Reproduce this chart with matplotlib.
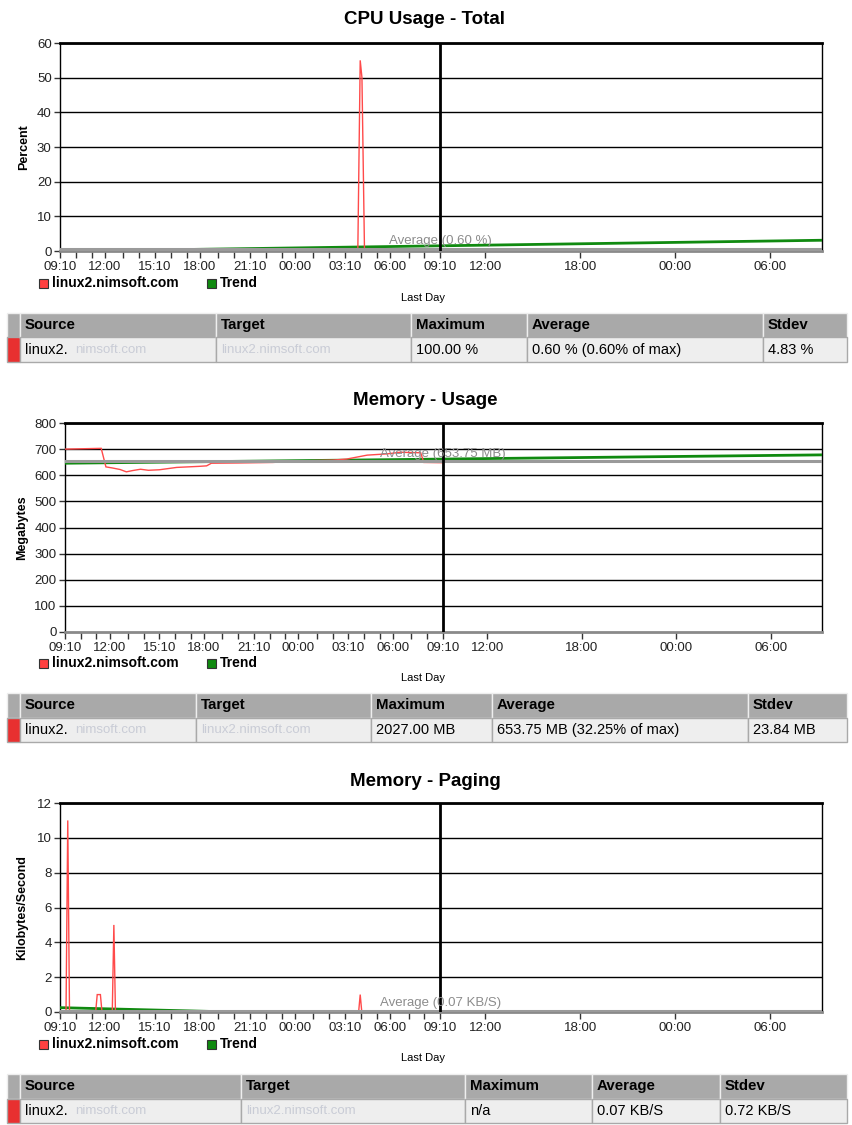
import matplotlib
matplotlib.use("Agg")
import matplotlib.pyplot as plt
from matplotlib.patches import Rectangle

plt.rcParams['font.family'] = ['Liberation Sans', 'DejaVu Sans']

W, H = 852, 1125

# ---------------- data (hours since 09:10 of day 1) ----------------
tick_pos = [0, 2.833, 6, 8.833, 12, 14.833, 18, 20.833, 24, 26.833, 32.833, 38.833, 44.833]
tick_lbl = ["09:10", "12:00", "15:10", "18:00", "21:10", "00:00", "03:10", "06:00",
            "09:10", "12:00", "18:00", "00:00", "06:00"]
minor_pos = [1, 2, 4, 5, 7, 8, 10, 11, 13, 14, 16, 17, 19, 20, 22, 23]
x_max = 48.1
now_h = 24

cpu_t = [0, 2, 4, 6, 8, 10, 12, 14, 16, 18, 18.8, 18.95, 19.06, 19.22, 20, 22, 24]
cpu_v = [0.4, 0.3, 0.4, 0.3, 0.4, 0.3, 0.4, 0.3, 0.4, 0.3, 0.3, 55, 50, 0.3, 0.4, 0.3, 0.4]
cpu_avg = 0.60
cpu_trend_t = [0, 48.1]
cpu_trend_v = [-0.1, 3.1]

mem_t = [0, 2.3, 2.6, 3.0, 3.5, 3.9, 4.3, 4.8, 5.3, 6.0, 7.1, 8.5, 9.0, 9.3, 11.0, 13.2,
         15.0, 17.0, 17.9, 19.2, 20.5, 21.3, 22.6, 22.8, 24]
mem_v = [700, 703, 632, 628, 622, 613, 618, 623, 619, 621, 630, 634, 636, 646, 647, 649,
         655, 658, 662, 677, 682, 688, 686, 649, 648]
mem_avg = 653.75
mem_trend_t = [0, 48.1]
mem_trend_v = [646, 678]

pag_t = [0, 0.38, 0.49, 0.6, 2.25, 2.35, 2.55, 2.65, 3.3, 3.4, 3.5, 18.85, 18.95, 19.05, 24]
pag_v = [0, 0, 11, 0, 0, 1, 1, 0, 0, 5, 0, 0, 1, 0, 0]
pag_avg = 0.07
pag_trend_t = [0, 48.1]
pag_trend_v = [0.25, -0.85]

charts = [
    dict(title="CPU Usage - Total", ylabel="Percent", ymax=60, ystep=10,
         t=cpu_t, v=cpu_v, avg=cpu_avg, avg_lbl="Average (0.60 %)",
         tt=cpu_trend_t, tv=cpu_trend_v,
         box=(60, 43, 822, 251), title_y=18, leg_y=283, last_y=298, ylab_x=24,
         table_y=313, cols=[7, 20, 216, 411, 527, 763, 847],
         row=["linux2.", "", "100.00 %", "0.60 % (0.60% of max)", "4.83 %"]),
    dict(title="Memory - Usage", ylabel="Megabytes", ymax=800, ystep=100,
         t=mem_t, v=mem_v, avg=mem_avg, avg_lbl="Average (653.75 MB)",
         tt=mem_trend_t, tv=mem_trend_v,
         box=(65, 423, 822, 632), title_y=399, leg_y=663, last_y=678, ylab_x=22,
         table_y=693, cols=[7, 20, 196, 371, 492, 748, 847],
         row=["linux2.", "", "2027.00 MB", "653.75 MB (32.25% of max)", "23.84 MB"]),
    dict(title="Memory - Paging", ylabel="Kilobytes/Second", ymax=12, ystep=2,
         t=pag_t, v=pag_v, avg=pag_avg, avg_lbl="Average (0.07 KB/S)",
         tt=pag_trend_t, tv=pag_trend_v,
         box=(60, 803, 822, 1012), title_y=780, leg_y=1044, last_y=1058, ylab_x=22,
         table_y=1074, cols=[7, 20, 241, 465, 592, 720, 847],
         row=["linux2.", "", "n/a", "0.07 KB/S", "0.72 KB/S"]),
]
headers = ["Source", "Target", "Maximum", "Average", "Stdev"]

fig = plt.figure(figsize=(W / 100, H / 100), dpi=100)
fig.patch.set_facecolor("white")


def fx(x):
    return x / W


def fy(y):
    return 1 - y / H


for c in charts:
    l, t, r, b = c["box"]
    ax = fig.add_axes([fx(l), fy(b), (r - l) / W, (b - t) / H])
    ax.set_xlim(0, x_max)
    ax.set_ylim(0, c["ymax"])
    yt = list(range(0, c["ymax"] + 1, c["ystep"]))
    ax.set_yticks(yt)
    for yv in yt[1:]:
        ax.axhline(yv, color="black", lw=1.0, zorder=1)
    ax.plot(c["tt"], c["tv"], color="#108a10", lw=2.0, zorder=3)
    ax.plot(c["t"], c["v"], color="#ff4a4a", lw=1.0, zorder=4, solid_joinstyle="miter")
    ax.axhline(c["avg"], color="#9a9a9a", lw=2.2, zorder=5)
    ax.axvline(now_h, color="black", lw=2.0, zorder=6)
    ax.text(now_h, c["avg"] + c["ymax"] * 0.008, c["avg_lbl"], color="#8c8c8c",
            fontsize=9.5, ha="center", va="bottom", zorder=7)
    ax.set_xticks(tick_pos)
    ax.set_xticklabels(tick_lbl)
    ax.set_xticks(minor_pos, minor=True)
    ax.tick_params(axis="x", which="both", length=5, width=1, color="#333333",
                   labelsize=9.5, labelcolor="#222222", pad=2.5)
    ax.tick_params(axis="y", length=4, width=1, color="#333333", labelsize=9.5,
                   labelcolor="#222222", pad=2)
    for s in ["left", "right"]:
        ax.spines[s].set_color("black")
        ax.spines[s].set_linewidth(1.0)
    ax.spines["top"].set_color("black")
    ax.spines["top"].set_linewidth(2.0)
    ax.spines["bottom"].set_color("#8a8a8a")
    ax.spines["bottom"].set_linewidth(2.0)

    fig.text(fx(425), fy(c["title_y"] + 1.5), c["title"], fontsize=13.5, fontweight="bold",
             ha="center", va="center")
    fig.text(fx(c["ylab_x"]), fy((t + b) / 2), c["ylabel"], fontsize=9, fontweight="bold",
             rotation=90, ha="center", va="center")
    # legend
    ly = c["leg_y"]
    fig.patches.append(Rectangle((fx(39), fy(ly + 4.5)), 9 / W, 9 / H, transform=fig.transFigure,
                                 facecolor="#ff4040", edgecolor="#333333", lw=0.8))
    fig.text(fx(52), fy(ly), "linux2.nimsoft.com", fontsize=10, fontweight="bold",
             ha="left", va="center")
    fig.patches.append(Rectangle((fx(207), fy(ly + 4.5)), 9 / W, 9 / H, transform=fig.transFigure,
                                 facecolor="#108a10", edgecolor="#333333", lw=0.8))
    fig.text(fx(220), fy(ly), "Trend", fontsize=10, fontweight="bold", ha="left", va="center")
    fig.text(fx(423), fy(c["last_y"]), "Last Day", fontsize=8, ha="center", va="center")

    # table
    ty = c["table_y"]
    cols = c["cols"]
    rh = 24.5
    for i in range(len(cols) - 1):
        x0, x1 = cols[i], cols[i + 1]
        fig.patches.append(Rectangle((fx(x0), fy(ty + rh)), (x1 - x0) / W, rh / H,
                                     transform=fig.transFigure, facecolor="#a9a9a9",
                                     edgecolor="#eeeeee", lw=1.0))
        fc = "#e83030" if i == 0 else "#eeeeee"
        fig.patches.append(Rectangle((fx(x0), fy(ty + 2 * rh)), (x1 - x0) / W, rh / H,
                                     transform=fig.transFigure, facecolor=fc,
                                     edgecolor="#a9a9a9", lw=1.0))
    for i, h in enumerate(headers):
        fig.text(fx(cols[i + 1] + 5), fy(ty + rh / 2), h, fontsize=10.8, fontweight="bold",
                 ha="left", va="center")
    row = c["row"]
    fig.text(fx(cols[1] + 5), fy(ty + 1.5 * rh), row[0], fontsize=10.5, ha="left", va="center")
    fig.text(fx(cols[1] + 5 + 50), fy(ty + 1.5 * rh), "nimsoft.com", fontsize=9.5,
             color="#c9ccd6", ha="left", va="center")
    fig.text(fx(cols[2] + 5), fy(ty + 1.5 * rh), "linux2.nimsoft.com", fontsize=9.5,
             color="#c9ccd6", ha="left", va="center")
    for i in range(2, 5):
        fig.text(fx(cols[i + 1] + 5), fy(ty + 1.5 * rh), row[i], fontsize=10.5,
                 ha="left", va="center")

fig.savefig("out.png", dpi=100, facecolor="white")
